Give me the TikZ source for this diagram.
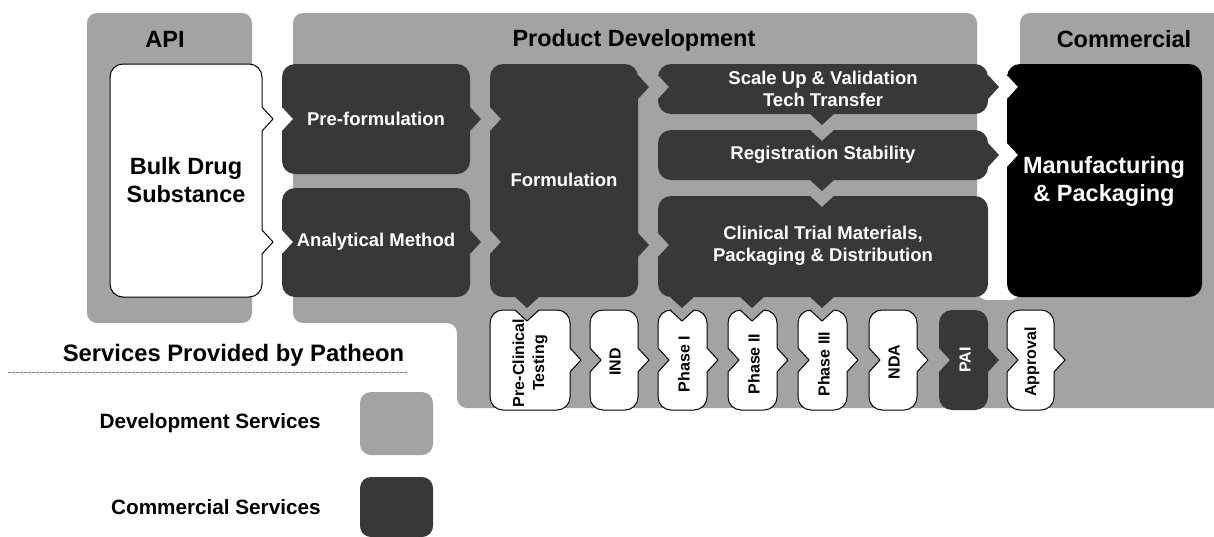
\documentclass[tikz,border=0pt]{standalone}
\usepackage{fontspec}
\setmainfont{Liberation Sans}
\usetikzlibrary{positioning}

\definecolor{devgray}{gray}{0.64}
\definecolor{comgray}{gray}{0.22}

\newcommand{\notchdepth}{11}
\newcommand{\notchhalf}{12}
\newcommand{\cornerrad}{13}
\newcommand{\cornerpull}{5.8}
% #1 style, #2..#5 x1 y1 x2 y2, #6 top notches, #7 right bumps,
% #8 bottom bumps (right to left), #9 left notches (bottom to top)
\newcommand{\stageshape}[9]{%
  \path[#1] (#2+\cornerrad,#3)
    \foreach \t in {#6} { -- (\t-\notchhalf,#3) -- (\t,#3+\notchdepth) -- (\t+\notchhalf,#3) }
    -- (#4-\cornerrad,#3) .. controls (#4-\cornerpull,#3) and (#4,#3+\cornerpull) .. (#4,#3+\cornerrad)
    \foreach \t in {#7} { -- (#4,\t-\notchhalf) -- (#4+\notchdepth,\t) -- (#4,\t+\notchhalf) }
    -- (#4,#5-\cornerrad) .. controls (#4,#5-\cornerpull) and (#4-\cornerpull,#5) .. (#4-\cornerrad,#5)
    \foreach \t in {#8} { -- (\t+\notchhalf,#5) -- (\t,#5+\notchdepth) -- (\t-\notchhalf,#5) }
    -- (#2+\cornerrad,#5) .. controls (#2+\cornerpull,#5) and (#2,#5-\cornerpull) .. (#2,#5-\cornerrad)
    \foreach \t in {#9} { -- (#2,\t+\notchhalf) -- (#2+\notchdepth,\t) -- (#2,\t-\notchhalf) }
    -- (#2,#3+\cornerrad) .. controls (#2,#3+\cornerpull) and (#2+\cornerpull,#3) .. (#2+\cornerrad,#3) -- cycle;
}

\tikzset{
  devback/.style={fill=devgray, rounded corners=10pt},
  darkstage/.style={fill=comgray},
  whitestage/.style={fill=white, draw=black, line width=1pt, line join=round},
  heading/.style={font=\bfseries\fontsize{23.5}{27}\selectfont},
  bigtext/.style={align=center, font=\bfseries\fontsize{23.5}{28}\selectfont},
  darktext/.style={text=white, align=center, font=\bfseries\fontsize{18.5}{22}\selectfont},
  milestone/.style={rotate=90, align=center, font=\bfseries\fontsize{16}{20}\selectfont},
  legendtitle/.style={font=\bfseries\fontsize{23.8}{28}\selectfont},
  legendtext/.style={inner sep=0pt, font=\bfseries\fontsize{20.7}{24}\selectfont},
  keybox/.style={minimum width=73pt, minimum height=63pt, rounded corners=11pt, inner sep=0pt},
}

\begin{document}
\begin{tikzpicture}[x=1pt,y=-1pt]
  \useasboundingbox (0,0) rectangle (1214,536);

  % backgrounds
  \path[devback] (87,13) rectangle (252,323);
  \path[devback] (293,13) -- (977,13) -- (977,300) -- (1020,300) -- (1020,13)
    -- (1240,13) -- (1240,408) -- (457,408) -- (457,323) -- (293,323) -- cycle;

  \node[heading] (api) at (165,39) {API};
  \node[heading] (prodev) at (634,40) {Product Development};
  \node[heading] (commercial) at (1124,39) {Commercial};

  % stages
  \stageshape{whitestage}{110}{64}{262}{297}{}{119,242}{}{}
  \node[bigtext] (bulk) at (186,180) {Bulk Drug\\Substance};

  \stageshape{darkstage}{282}{64}{470}{174}{}{119}{}{119}
  \node[darktext] (preform) at (376,119) {Pre-formulation};
  \stageshape{darkstage}{282}{188}{470}{297}{}{242}{}{242}
  \node[darktext] (analytic) at (376,242) {Analytical Method};
  \stageshape{darkstage}{490}{64}{638}{297}{}{87,245}{527}{242,119}
  \node[darktext] (formul) at (564,180) {Formulation};

  \stageshape{darkstage}{658}{64}{988}{114}{}{87}{822}{87}
  \node[darktext] (scaleup) at (823,89) {Scale Up \& Validation\\Tech Transfer};
  \stageshape{darkstage}{658}{130}{988}{180}{822}{155}{822}{}
  \node[darktext] (regstab) at (823,155) {Registration Stability};
  \stageshape{darkstage}{658}{196}{988}{297}{822}{}{822,752,682}{245}
  \node[darktext] (ctm) at (823,246) {Clinical Trial Materials,\\Packaging \& Distribution};

  \stageshape{fill=black}{1007}{64}{1202}{297}{}{}{}{155,87}
  \node[bigtext, text=white] (manuf) at (1104,181) {Manufacturing\\\& Packaging};

  % milestones
  \stageshape{whitestage}{490}{310}{570}{410}{527}{360}{}{}
  \node[milestone] (preclin) at (530,363) {Pre-Clinical\\Testing};
  \stageshape{whitestage}{590}{310}{638}{410}{}{360}{}{360}
  \node[milestone] (ind) at (615,362) {IND};
  \stageshape{whitestage}{658}{310}{707}{410}{682}{360}{}{360}
  \node[milestone] (phaseone) at (684,364) {Phase I};
  \stageshape{whitestage}{728}{310}{777}{410}{752}{360}{}{360}
  \node[milestone] (phasetwo) at (754,364) {Phase II};
  \stageshape{whitestage}{798}{310}{847}{410}{822}{360}{}{360}
  \node[milestone] (phasethree) at (824,364) {Phase III};
  \stageshape{whitestage}{869}{310}{917}{410}{}{360}{}{360}
  \node[milestone] (nda) at (894,362) {NDA};
  \stageshape{darkstage}{939}{310}{988}{410}{}{360}{}{360}
  \node[milestone, text=white] (pai) at (965,360) {PAI};
  \stageshape{whitestage}{1007}{310}{1054}{410}{}{360}{}{360}
  \node[milestone] (approval) at (1032,362) {Approval};

  % legend
  \node[legendtitle] (services) at (233.5,355) {Services Provided by Patheon};
  \coordinate (rulestart) at (8,372);
  \coordinate (ruleend) at (407,372);
  \draw[gray, line width=0.8pt, dash pattern=on 3pt off 1pt] (rulestart) -- (ruleend);

  \node[keybox, fill=devgray] (devkey) at (396.5,423.5) {};
  \node[legendtext] (devlabel) [left=39pt of devkey] {Development Services};
  \node[keybox, fill=comgray, minimum height=60pt] (comkey) at (396.5,507) {};
  \node[legendtext] (comlabel) [left=39pt of comkey] {Commercial Services};

\end{tikzpicture}
\end{document}
